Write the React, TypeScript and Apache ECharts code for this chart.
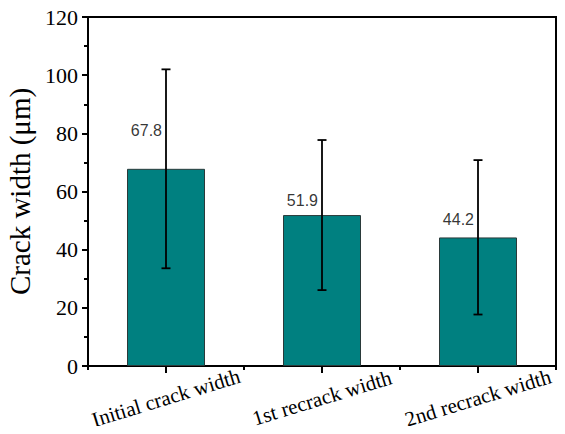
import React, { useEffect, useRef } from "react";
import * as echarts from "echarts";

const categories = ["Initial crack width", "1st recrack width", "2nd recrack width"];
const means = [67.8, 51.9, 44.2];
const errLow = [33.6, 26.1, 17.7];
const errHigh = [102.0, 77.7, 70.8];
const labelY = [81.0, 57.0, 50.4];
const yTicks = [0, 20, 40, 60, 80, 100, 120];

export default function App() {
  const ref = useRef<HTMLDivElement>(null);
  useEffect(() => {
    if (!ref.current) return;
    const chart = echarts.init(ref.current, null, { renderer: "svg" });
    const serif = "Liberation Serif";
    chart.setOption({
      animation: false,
      textStyle: { fontFamily: serif },
      grid: {
        left: 88,
        right: 9,
        top: 17,
        bottom: 68,
        containLabel: false,
        outerBoundsMode: "none",
        show: true,
        borderColor: "#000",
        borderWidth: 2,
        backgroundColor: "transparent",
      },
      xAxis: [
        {
          type: "category",
          data: categories,
          axisLine: { show: true, lineStyle: { color: "#000", width: 2 } },
          axisTick: { show: true, alignWithLabel: true, length: 7, lineStyle: { color: "#000", width: 2 } },
          axisLabel: {
            color: "#000",
            fontFamily: serif,
            fontSize: 21,
            rotate: 17,
            align: "center",
            verticalAlign: "middle",
            margin: 32,
            interval: 0,
          },
          splitLine: { show: false },
        },
        {
          type: "category",
          data: categories,
          position: "bottom",
          axisLine: { show: false },
          axisTick: { show: true, alignWithLabel: false, length: 4, lineStyle: { color: "#000", width: 2 } },
          axisLabel: { show: false },
          splitLine: { show: false },
        },
      ],
      yAxis: [
        {
          type: "value",
          position: "left",
          min: yTicks[0],
          max: yTicks[yTicks.length - 1],
          interval: 20,
          name: "Crack width (\u03bcm)",
          nameLocation: "middle",
          nameGap: 54,
          nameMoveOverlap: false,
          nameTextStyle: { color: "#000", fontFamily: serif, fontSize: 29 },
          axisLine: { show: true, onZero: false, lineStyle: { color: "#000", width: 2 } },
          axisTick: { show: true, length: 6, lineStyle: { color: "#000", width: 2 } },
          minorTick: { show: true, splitNumber: 2, length: 4, lineStyle: { color: "#000", width: 2 } },
          axisLabel: {
            show: true,
            color: "#000",
            fontFamily: serif,
            fontSize: 22,
            margin: 10,
          },
          splitLine: { show: false },
        },
      ],
      series: [
        {
          type: "bar",
          data: means,
          barWidth: "50%",
          itemStyle: { color: "#008080", borderColor: "#2a3a3a", borderWidth: 1 },
          z: 2,
        },
        {
          type: "custom",
          data: categories.map((_, i) => [i, errLow[i], errHigh[i]]),
          renderItem: (params: any, api: any) => {
            const x = api.value(0);
            const lo = api.coord([x, api.value(1)]);
            const hi = api.coord([x, api.value(2)]);
            const cap = 4.5;
            const style = { stroke: "#000", lineWidth: 1.8 };
            return {
              type: "group",
              children: [
                { type: "line", shape: { x1: lo[0], y1: lo[1], x2: hi[0], y2: hi[1] }, style },
                { type: "line", shape: { x1: hi[0] - cap, y1: hi[1], x2: hi[0] + cap, y2: hi[1] }, style },
                { type: "line", shape: { x1: lo[0] - cap, y1: lo[1], x2: lo[0] + cap, y2: lo[1] }, style },
              ],
            };
          },
          z: 5,
        },
        {
          type: "scatter",
          data: categories.map((_, i) => [i, labelY[i], means[i]]),
          symbolSize: 0,
          label: {
            show: true,
            position: "left",
            distance: 4,
            color: "#000",
            fontFamily: "Liberation Sans",
            fontSize: 16,
            formatter: (p: any) => p.value[2].toFixed(1),
          },
          z: 6,
        },
      ],
    });
    return () => chart.dispose();
  }, []);
  return <div ref={ref} style={{ width: 565, height: 434, margin: -8 }} />;
}
